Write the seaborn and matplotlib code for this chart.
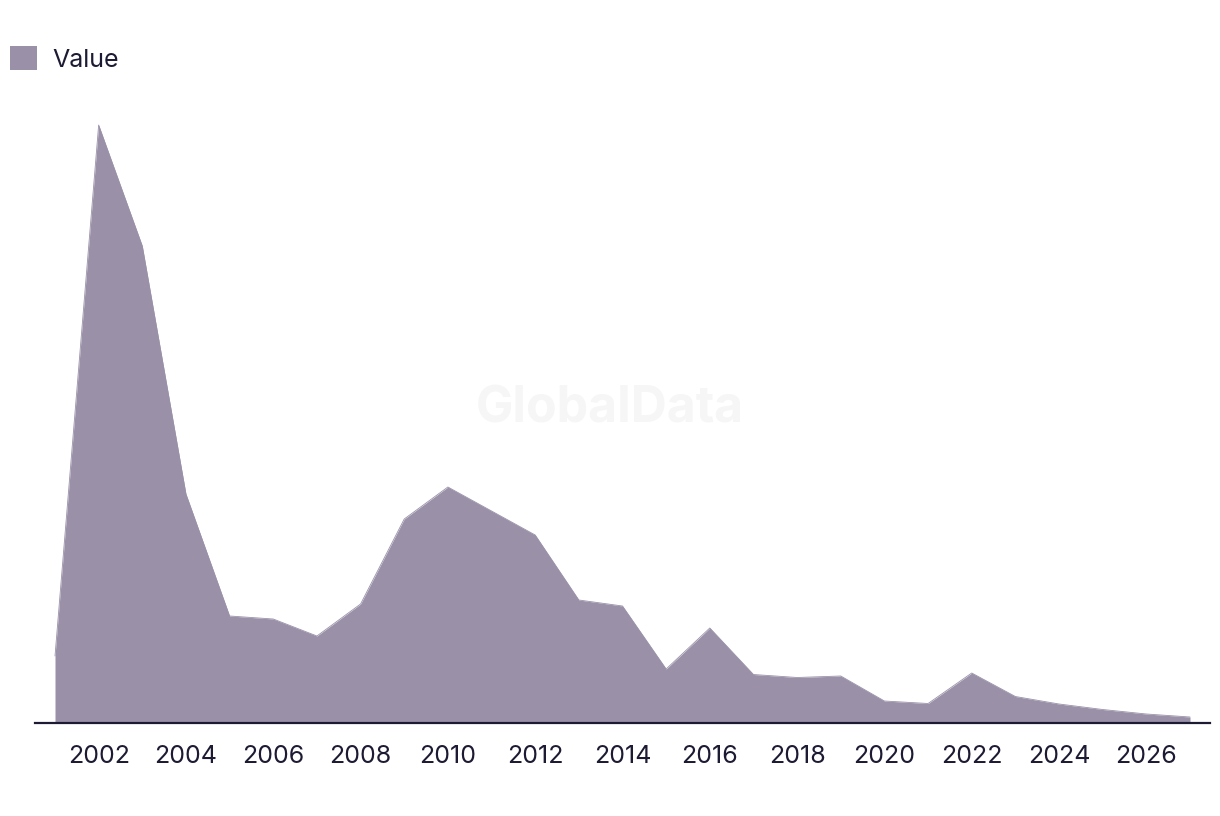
import matplotlib
matplotlib.use("Agg")
import matplotlib.pyplot as plt
from matplotlib.patches import Patch
import seaborn as sns
import pandas as pd

years = list(range(2001, 2028))
values = [67, 598, 477, 229, 107, 104, 87, 119, 204, 236, 212, 188, 123, 117,
          54, 95, 48.5, 45.5, 47, 22, 19.5, 50, 26.5, 19, 13.5, 9, 6]
tick_years = list(range(2002, 2027, 2))
series_name = "Value"

df = pd.DataFrame({"year": years, "value": values})

sns.set_theme(style="white")
plt.rcParams['font.family'] = ['Inter', 'DejaVu Sans']

W, H = 1220, 816
fig = plt.figure(figsize=(W / 100, H / 100), dpi=100)
ax = fig.add_axes([35 / W, 1 - 723 / H, (1210 - 35) / W, (723 - 100) / H])

fill_color = "#9a91a9"
text_color = "#1c1b33"

sns.lineplot(data=df, x="year", y="value", ax=ax, color=fill_color, linewidth=0.6)
ax.fill_between(df["year"], 0, df["value"], color=fill_color, linewidth=0)

step = 43.65
ax.set_xlim(2001 - 20 / step, 2027 + 20 / step)
ax.set_ylim(0, 623)
ax.set_xticks(tick_years)
ax.set_xticklabels([str(y) for y in tick_years], fontsize=18, color=text_color)
ax.tick_params(axis="x", length=0, pad=16)
ax.set_yticks([])
ax.set_xlabel("")
ax.set_ylabel("")
for s in ["top", "right", "left"]:
    ax.spines[s].set_visible(False)
ax.spines["bottom"].set_color(text_color)
ax.spines["bottom"].set_linewidth(1.6)

fig.text(0.5, 1 - 409 / H, "GlobalData", ha="center", va="center",
         fontsize=36, fontweight="bold", color="#f6f6f6", zorder=0)

handle = Patch(facecolor=fill_color, edgecolor="none")
fig.legend([handle], [series_name], loc="center left",
           bbox_to_anchor=(-13 / W, 1 - 59 / H), frameon=False,
           fontsize=18, handlelength=1.1, handleheight=1.1, handletextpad=0.6,
           labelcolor=text_color)

fig.savefig("out.png", dpi=100)
